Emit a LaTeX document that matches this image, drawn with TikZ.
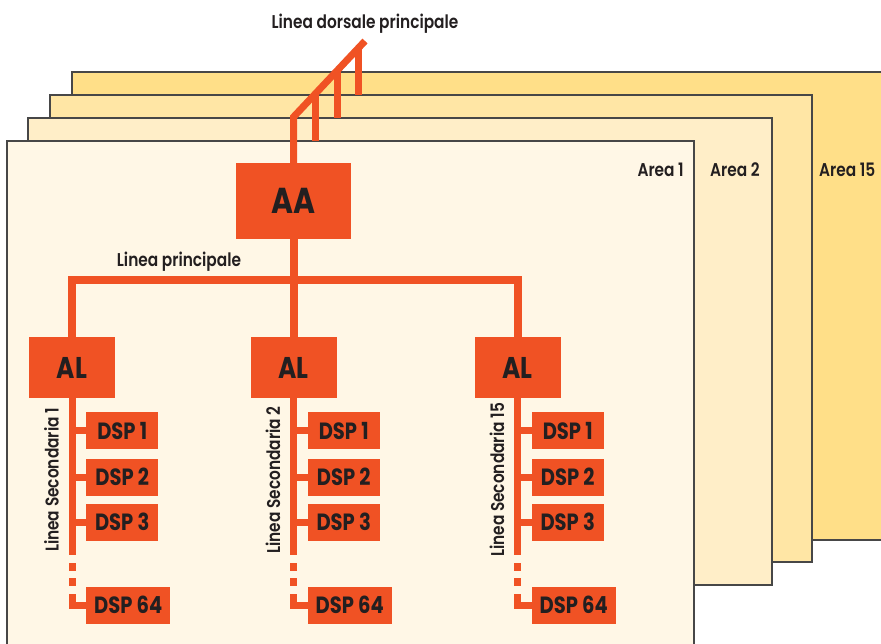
\documentclass[tikz,border=0pt]{standalone}
\usepackage{fontspec}
\setmainfont{Poppins}[FakeStretch=0.83]
\newfontfamily\lblfont{Poppins SemiBold}[FakeStretch=0.83]
\usetikzlibrary{positioning,calc}

\definecolor{knxorange}{RGB}{240,82,36}
\definecolor{knxtext}{RGB}{35,31,32}
\definecolor{areaone}{RGB}{255,247,230}
\definecolor{areatwo}{RGB}{255,238,200}
\definecolor{areathree}{RGB}{255,230,165}
\definecolor{areaback}{RGB}{255,223,136}

\tikzset{
  area/.style={draw=black!72, line width=1.3pt},
  bus/.style={draw=knxorange, line width=7pt},
  mainbus/.style={draw=knxorange, line width=8pt},
  lbl/.style={text=knxtext, inner sep=0pt, font=\lblfont\fontsize{18.5}{18.5}\selectfont},
  dev/.style={fill=knxorange, text=knxtext, inner sep=0pt, minimum width=72pt, minimum height=37pt,
    font=\bfseries\fontsize{23.5}{23.5}\selectfont},
  hub/.style={fill=knxorange, text=knxtext, inner sep=0pt, minimum width=86pt, minimum height=61pt,
    font=\bfseries\fontsize{30}{30}\selectfont},
}

\begin{document}
\begin{tikzpicture}[x=1pt, y=-1pt]
  \useasboundingbox (0,0) rectangle (881,643);
  \clip (0,0) rectangle (881,643);
  % areas, back to front
  \filldraw[area, fill=areaback] (72,72) rectangle (900,540);
  \filldraw[area, fill=areathree] (50,95) rectangle (812,562);
  \filldraw[area, fill=areatwo] (28,118) rectangle (772,585);
  \filldraw[area, fill=areaone] (7,141) rectangle (694,670);
  % area labels
  \node[lbl, anchor=base east] (area1) at (684,176) {Area 1};
  \node[lbl, anchor=base west] (area2) at (710,176) {Area 2};
  \node[lbl, anchor=base west] (area15) at (819,176) {Area 15};
  % area coupler
  \node[hub, minimum width=115pt, minimum height=76pt, font=\bfseries\fontsize{36}{36}\selectfont]
    (AA) at (293.5,201) {AA};
  % backbone
  \coordinate (bb0) at (293.5,117);
  \coordinate (bb1) at (365,41);
  \draw[bus] (AA.north) -- (bb0) -- (bb1);
  \draw[bus] (315.5,94) -- (315.5,141);
  \draw[bus] (337,71) -- (337,118);
  \draw[bus] (358,48.5) -- (358,95);
  \node[lbl, anchor=base] (dorsale) at (365,28) {Linea dorsale principale};
  % lines
  \foreach \cx/\lab [count=\i] in {72/1, 293.5/2, 517.5/15} {
    \node[hub] (al\i) at (\cx,367.5) {AL};
    \node[dev, anchor=west] (dsp\i-1) at (\cx+14,430.5) {DSP 1};
    \node[dev, anchor=west] (dsp\i-2) at (\cx+14,477) {DSP 2};
    \node[dev, anchor=west] (dsp\i-3) at (\cx+14,522) {DSP 3};
    \node[dev, anchor=west, minimum width=84pt] (dsp\i-64) at (\cx+14,605) {DSP 64};
    \draw[bus] (al\i.south) -- (\cx,555);
    \draw[bus] (\cx,563) -- (\cx,571);
    \draw[bus] (\cx,578) -- (\cx,586);
    \draw[bus] (\cx,594) |- (dsp\i-64.west);
    \foreach \d in {1,2,3}
      \draw[bus] (al\i.south |- dsp\i-\d.west) -- (dsp\i-\d.west);
    \node[lbl, rotate=90] (sec\i) at (\cx-20.5,480) {Linea Secondaria \lab};
  }
  % main line
  \draw[mainbus] (al1.north) |- (293.5,280) -| (al3.north);
  \draw[mainbus] (AA.south) -- (al2.north);
  \node[lbl, anchor=base] (principale) at (179,266) {Linea principale};
\end{tikzpicture}
\end{document}
